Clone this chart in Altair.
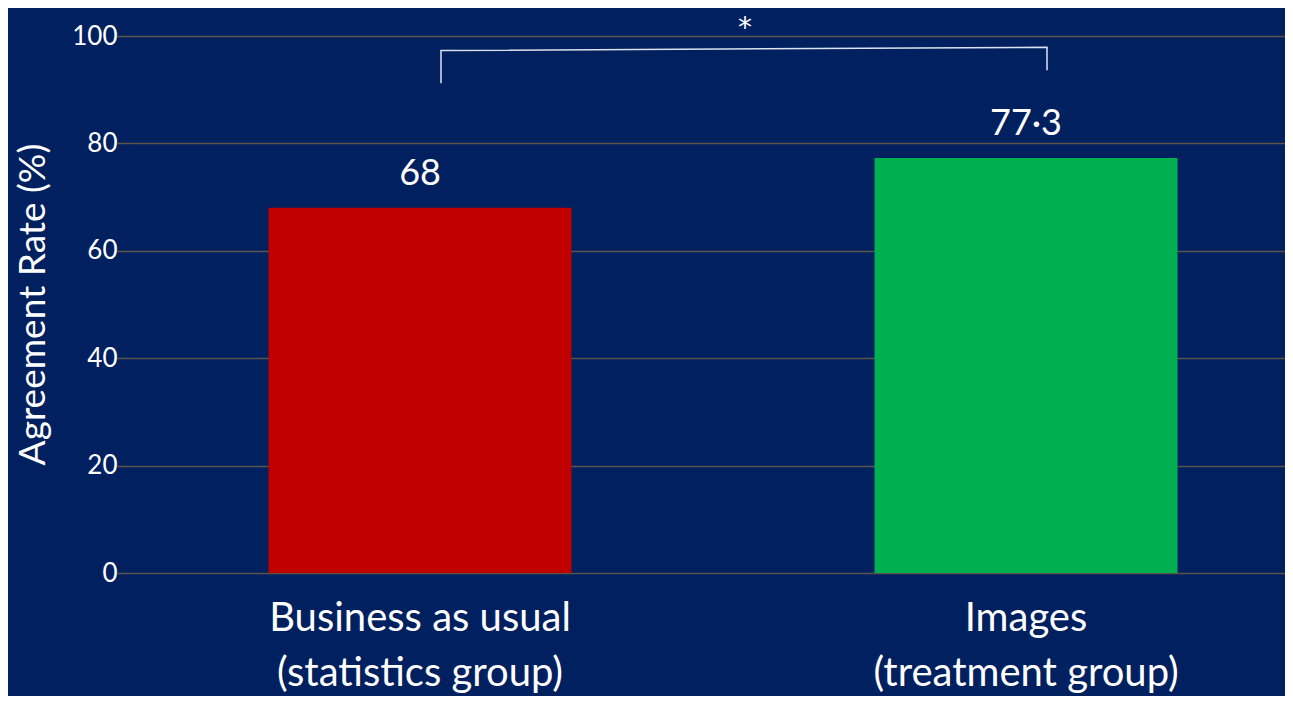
import altair as alt
import pandas as pd

categories = ["Business as usual|(statistics group)", "Images|(treatment group)"]
values = [68, 77.3]
value_labels = ["68", "77·3"]
bar_colors = ["#C00000", "#00B050"]

bracket_cats = [categories[0], categories[0], categories[1], categories[1]]
bracket_y = [91.2, 97.3, 97.9, 93.6]
bracket_order = [0, 1, 2, 3]

y_ticks = [0, 20, 40, 60, 80, 100]

FONT = "Lato"
BG = "#002060"

bars_df = pd.DataFrame({"cat": categories, "value": values, "label": value_labels, "color": bar_colors})
bracket_df = pd.DataFrame({"cat": bracket_cats, "y": bracket_y, "o": bracket_order})

x_enc = alt.X(
    "cat:N",
    sort=categories,
    scale=alt.Scale(range=[-28, 1184], paddingInner=0.5, paddingOuter=0.25),
    axis=alt.Axis(
        title=None,
        labelExpr="split(datum.label, '|')",
        labelFontSize=40,
        labelLineHeight=55,
        labelColor="white",
        labelFont=FONT,
        labelPadding=25,
        labelLimit=0,
        labelAngle=0,
        domain=False,
        ticks=False,
        grid=False,
    ),
)

y_scale = alt.Scale(domain=[0, 100], nice=False)

bars = alt.Chart(bars_df).mark_bar().encode(
    x=x_enc,
    y=alt.Y(
        "value:Q",
        scale=y_scale,
        axis=alt.Axis(
            values=y_ticks,
            title="Agreement Rate (%)",
            titleFont=FONT,
            titleFontSize=37,
            titleFontWeight="normal",
            titleColor="white",
            titleAngle=-90,
            titleX=-112,
            titleY=268,
            titleAlign="center",
            titleBaseline="middle",
            labelFont=FONT,
            labelFontSize=26,
            labelColor="white",
            labelPadding=28,
            ticks=False,
            domain=False,
            grid=True,
            gridColor="#5A5546",
            gridWidth=1.5,
        ),
    ),
    color=alt.Color("color:N", scale=None),
)

labels = alt.Chart(bars_df).mark_text(
    font=FONT, fontSize=36, color="white", baseline="bottom", dy=-15
).encode(
    x=alt.X("cat:N", sort=categories),
    y=alt.Y("value:Q", scale=y_scale),
    text="label:N",
)

bracket = alt.Chart(bracket_df).mark_line(
    color="#DDE3EE", strokeWidth=1.5, xOffset=21
).encode(
    x=alt.X("cat:N", sort=categories),
    y=alt.Y("y:Q", scale=y_scale),
    order="o:Q",
)

chart = (
    alt.layer(bars, labels, bracket)
    .properties(
        width=1140,
        height=537,
        autosize=alt.AutoSizeParams(type="none"),
        padding={"left": 137, "top": 28, "right": 0, "bottom": 123},
        background=BG,
        title=alt.TitleParams(
            "*", font="DejaVu Sans", fontSize=28, fontWeight="normal", color="white",
            anchor="middle", dx=30, offset=-20,
        ),
    )
    .configure_view(stroke=None)
)

chart.save("out.html", embed_options={"renderer": "svg", "actions": False})
